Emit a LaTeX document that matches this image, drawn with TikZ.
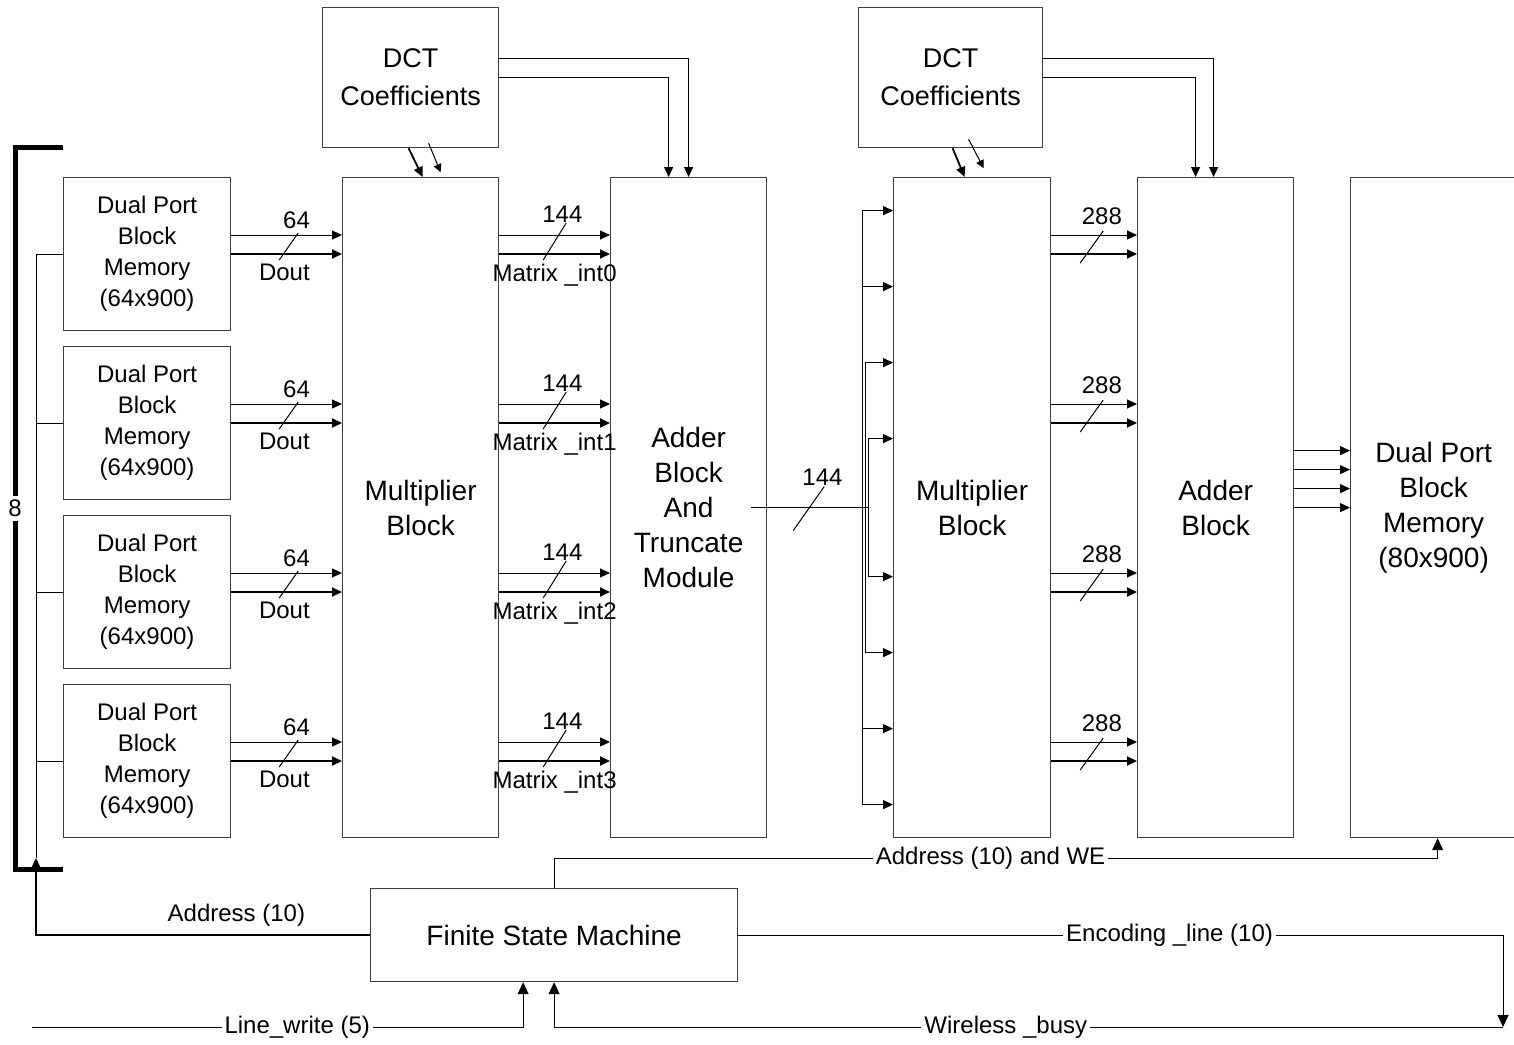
\documentclass[tikz,border=0pt]{standalone}
\usepackage{fontspec}
\setmainfont{Liberation Sans}
\usetikzlibrary{arrows.meta, positioning, calc}

\begin{document}
\begin{tikzpicture}[x=0.5pt, y=-0.5pt, line width=0.5pt,
  blk/.style={draw=black!75, line width=0.6pt, anchor=north west, align=center, inner sep=0pt},
  big/.style={font=\fontsize{14}{17.5}\selectfont},
  sig/.style={-{Triangle[length=5pt, width=4.5pt]}},
  sigb/.style={-{Triangle[length=6pt, width=5.5pt]}},
  lbl/.style={font=\fontsize{12}{14}\selectfont, inner sep=0pt},
  gap/.style={lbl, fill=white, inner sep=1.5pt}]

  \useasboundingbox (0,0) rectangle (1514,1044);

  % input memories
  \foreach \i/\y in {1/177, 2/346, 3/515, 4/684} {
    \node[blk, minimum width=83.5pt, minimum height=76.5pt, font=\fontsize{12}{15.5}\selectfont] (mem\i) at (63,\y) {Dual Port\\Block\\Memory\\(64x900)};
  }

  \node[blk, minimum width=88pt, minimum height=70pt, font=\fontsize{13.5}{19}\selectfont] (dct1) at (322,7) {DCT\\Coefficients};
  \node[blk, minimum width=92pt, minimum height=70pt, font=\fontsize{13.5}{19}\selectfont] (dct2) at (858,7) {DCT\\Coefficients};

  \node[blk, big, minimum width=78pt, minimum height=330pt] (mul1) at (342,177) {Multiplier\\Block};
  \node[blk, big, minimum width=78pt, minimum height=330pt] (add1) at (610,177) {Adder\\Block\\And\\Truncate\\Module};
  \node[blk, big, minimum width=78.5pt, minimum height=330pt] (mul2) at (893,177) {Multiplier\\Block};
  \node[blk, big, minimum width=78pt, minimum height=330pt] (add2) at (1137,177) {Adder\\Block};
  \node[blk, big, minimum width=83pt, minimum height=330pt] (out) at (1350,177) {Dual Port\\Block\\Memory\\(80x900)};
  \node[blk, big, minimum width=183.5pt, minimum height=46.5pt] (fsm) at (370,888) {Finite State Machine};

  % data rows
  \foreach \i/\k in {1/0, 2/1, 3/2, 4/3} {
    \path (mem\i.north east) ++(0,58) coordinate (ra\i) ++(0,19) coordinate (rb\i);
    \draw[sig] (ra\i) -- (ra\i -| mul1.west) node[lbl, pos=0.59, above=3pt] {64};
    \draw[sig, line width=0.9pt] (rb\i) -- (rb\i -| mul1.west) node[lbl, pos=0.48, below=4.5pt] {Dout};
    \draw (rb\i) ++(48,6) -- ++(19,-27);
    \draw[sig] (ra\i -| mul1.east) -- (ra\i -| add1.west) node[lbl, pos=0.57, above=6pt] {144};
    \draw[sig, line width=0.9pt] (rb\i -| mul1.east) -- (rb\i -| add1.west) node[lbl, pos=0.5, below=4.5pt] {Matrix \_int\k};
    \draw (rb\i -| mul1.east) ++(44,6) -- ++(23,-37);
    \draw[sig] (ra\i -| mul2.east) -- (ra\i -| add2.west) node[lbl, pos=0.59, above=5pt] {288};
    \draw[sig, line width=0.9pt] (rb\i -| mul2.east) -- (rb\i -| add2.west);
    \draw (rb\i -| mul2.east) ++(29,9) -- ++(23,-32);
  }

  % 144 bus into second multiplier
  \coordinate (bus) at ([xshift=-12.5pt]mul2.west);
  \draw ([xshift=-8pt]add1.east) -- (bus) node[lbl, pos=0.61, above=11pt] {144};
  \draw ([xshift=-8pt]add1.east) ++(42,23) -- ++(31,-44);
  \foreach \dx/\dy in {31/297, 31/221, 28/145, 25/69} {
    \path (mul2.west) ++(-\dx,-\dy) coordinate (ft) ++(0,2*\dy) coordinate (fb);
    \draw (ft) -- (fb);
    \draw[sig] (ft) -- (ft -| mul2.west);
    \draw[sig] (fb) -- (fb -| mul2.west);
  }

  \foreach \dy in {0, 9.5, 19, 28.5}
    \draw[sig] ([yshift=\dy pt]add2.east) -- ([yshift=\dy pt]out.west);

  % coefficients
  \draw[sig, line width=0.9pt] ([xshift=-1pt]dct1.south) -- ([xshift=1pt]mul1.north);
  \draw[-{Triangle[length=4pt, width=4pt]}] ([shift={(9pt,2.5pt)}]dct1.south) -- ([shift={(15pt,-12pt)}]dct1.south);
  \draw[sig] ([yshift=9.5pt]dct1.east) -| (add1.north);
  \draw[sig] (dct1.east) -| ([xshift=-10pt]add1.north);
  \draw[sig, line width=0.9pt] ([xshift=1pt]dct2.south) -- ([xshift=-3.75pt]mul2.north);
  \draw[-{Triangle[length=4pt, width=4pt]}] ([shift={(9pt,4.5pt)}]dct2.south) -- ([shift={(16.5pt,-10pt)}]dct2.south);
  \draw[sig] ([yshift=9.5pt]dct2.east) -| ([xshift=-1pt]add2.north);
  \draw[sig] (dct2.east) -| ([xshift=-10pt]add2.north);

  % address bus to the input memories
  \coordinate (abus) at (36,858);
  \draw[line width=2.5pt] ([yshift=15pt]mem1.north west) -- ++(-48,0) |- ([yshift=-15.5pt]mem4.south west) node[lbl, pos=0.25, fill=white, inner sep=2pt] {8};
  \foreach \i in {1,...,4}
    \draw (mem\i.west) -- (mem\i.west -| abus);
  \draw (mem1.west -| abus) -- (abus);
  \draw[sigb, line width=1pt] (fsm.west) -| (abus) node[lbl, pos=0.2, above=4pt] {Address (10)};

  % control lines
  \coordinate (wb) at (1503,1027);
  \coordinate (lw) at (32,1027);
  \draw[sigb] (fsm.north) -- ++(0,-30) -| ([xshift=2pt]out.south) node[gap, pos=0.247] {Address (10) and WE};
  \draw[sigb] (fsm.east) -| (wb) node[gap, pos=0.282] {Encoding \_line (10)};
  \draw[sigb] (wb) -| (fsm.south) node[gap, pos=0.262] {Wireless \_busy};
  \draw[sigb] (lw) -| ([xshift=-15.5pt]fsm.south) node[gap, pos=0.27] {Line\_write (5)};

\end{tikzpicture}
\end{document}
